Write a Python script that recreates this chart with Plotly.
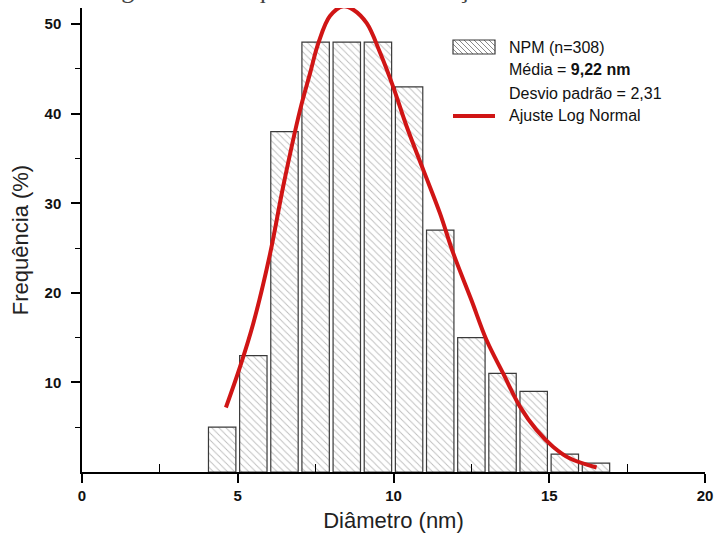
import plotly.graph_objects as go

# ---- data ----
bin_centers = [4.5, 5.5, 6.5, 7.5, 8.5, 9.5, 10.5, 11.5, 12.5, 13.5, 14.5, 15.5, 16.5]
freq = [5, 13, 38, 48, 48, 48, 43, 27, 15, 11, 9, 2, 1]

fit_x = [4.62, 5.07, 5.5, 6.04, 6.46, 7.0, 7.32, 7.59, 7.96, 8.39, 8.71, 9.14, 9.57,
         9.99, 10.42, 10.96, 11.49, 11.92, 12.5, 12.99, 13.52, 14.06, 14.59, 15.13,
         15.67, 16.52]
fit_y = [7.2, 11.7, 16.6, 24.4, 31.9, 40.4, 44.5, 47.9, 50.9, 52.0, 51.6, 50.1, 46.8,
         43.0, 38.6, 33.7, 28.9, 24.4, 19.2, 14.7, 11.0, 7.3, 4.7, 2.8, 1.5, 0.5]

x_ticks = [0, 5, 10, 15, 20]
y_ticks = [10, 20, 30, 40, 50]

legend_lines = ["NPM (n=308)", "Média = <b>9,22 nm</b>", "Desvio padrão = 2,31", "Ajuste Log Normal"]

# ---- layout geometry (pixels) ----
W, H = 717, 535
ML, MR, MT, MB = 82, 12, 8, 63
PW = W - ML - MR
PH = H - MT - MB


def px(x):
    return (x - ML) / PW


def py(y):
    return (H - MB - y) / PH


FONT = "Liberation Sans, Arial, sans-serif"

fig = go.Figure()
fig.add_trace(go.Bar(
    x=bin_centers, y=freq, width=0.88,
    marker=dict(color="white",
                line=dict(color="#3a3a3a", width=1.2),
                pattern=dict(shape="\\", fgcolor="#7a7a7a", bgcolor="white",
                             size=5, solidity=0.18)),
    showlegend=False, hoverinfo="x+y"))
fig.add_trace(go.Scatter(
    x=fit_x, y=fit_y, mode="lines", line=dict(color="#d01515", width=4, shape="spline"),
    showlegend=False, cliponaxis=True))

shapes = []
annotations = []

# legend patch (hatched rectangle)
x0, x1, y0, y1 = 453, 495, 40, 54
step = 5
xs = x0 - (y1 - y0)
while xs < x1:
    ax, ay = xs, y0
    bx, by = xs + (y1 - y0), y1
    if ax < x0:
        ay = ay + (x0 - ax)
        ax = x0
    if bx > x1:
        by = by - (bx - x1)
        bx = x1
    if bx > ax:
        shapes.append(dict(type="line", xref="paper", yref="paper",
                           x0=px(ax), y0=py(ay), x1=px(bx), y1=py(by),
                           line=dict(color="#8a8a8a", width=1)))
    xs += step
shapes.append(dict(type="rect", xref="paper", yref="paper",
                   x0=px(x0), y0=py(y0), x1=px(x1), y1=py(y1),
                   line=dict(color="#3a3a3a", width=1.2)))
# legend red line
shapes.append(dict(type="line", xref="paper", yref="paper",
                   x0=px(453), y0=py(116), x1=px(495), y1=py(116),
                   line=dict(color="#d01515", width=4)))

for i, (txt, yy) in enumerate(zip(legend_lines, [47, 70, 93, 115])):
    annotations.append(dict(xref="paper", yref="paper", x=px(507), y=py(yy),
                            xanchor="left", yanchor="middle", text=txt, showarrow=False,
                            font=dict(family=FONT, size=16, color="#111")))

# cut-off caption at the very top of the page
annotations.append(dict(xref="paper", yref="paper", x=px(63), y=py(6),
                        xanchor="left", yanchor="bottom",
                        text="Histograma de frequência de distribuição de tamanho das NPM",
                        showarrow=False,
                        font=dict(family="Liberation Serif, Times New Roman, serif",
                                  size=26, color="#444")))

fig.update_layout(
    width=W, height=H,
    margin=dict(l=ML, r=MR, t=MT, b=MB, autoexpand=False),
    plot_bgcolor="white", paper_bgcolor="white",
    bargap=0.1,
    shapes=shapes, annotations=annotations,
    showlegend=False,
)
fig.update_xaxes(
    range=[0, 20], tickvals=x_ticks, ticktext=[str(v) for v in x_ticks],
    automargin=False,
    showline=True, linecolor="black", linewidth=1.5, showgrid=False, zeroline=False,
    ticks="outside", ticklen=9, tickwidth=1.5, tickcolor="black",
    tickfont=dict(family=FONT, size=15, color="#111", weight="bold"),
    minor=dict(tickvals=[2.5, 7.5, 12.5, 17.5], ticks="inside", ticklen=8,
               tickwidth=1.2, tickcolor="black", showgrid=False),
    title=dict(text="Diâmetro (nm)", font=dict(family=FONT, size=22, color="#222"),
               standoff=10),
)
fig.update_yaxes(
    range=[0, 51.8], tickvals=y_ticks, ticktext=[str(v) for v in y_ticks],
    automargin=False,
    showline=True, linecolor="black", linewidth=1.5, showgrid=False, zeroline=False,
    ticks="outside", ticklen=9, tickwidth=1.5, tickcolor="black", ticklabelstandoff=7,
    tickfont=dict(family=FONT, size=15, color="#111", weight="bold"),
    minor=dict(tickvals=[5, 15, 25, 35, 45], ticks="outside", ticklen=5,
               tickwidth=1.2, tickcolor="black", showgrid=False),
    title=dict(text="Frequência (%)", font=dict(family=FONT, size=22, color="#222"),
               standoff=10),
)

fig.write_html("out.html")
